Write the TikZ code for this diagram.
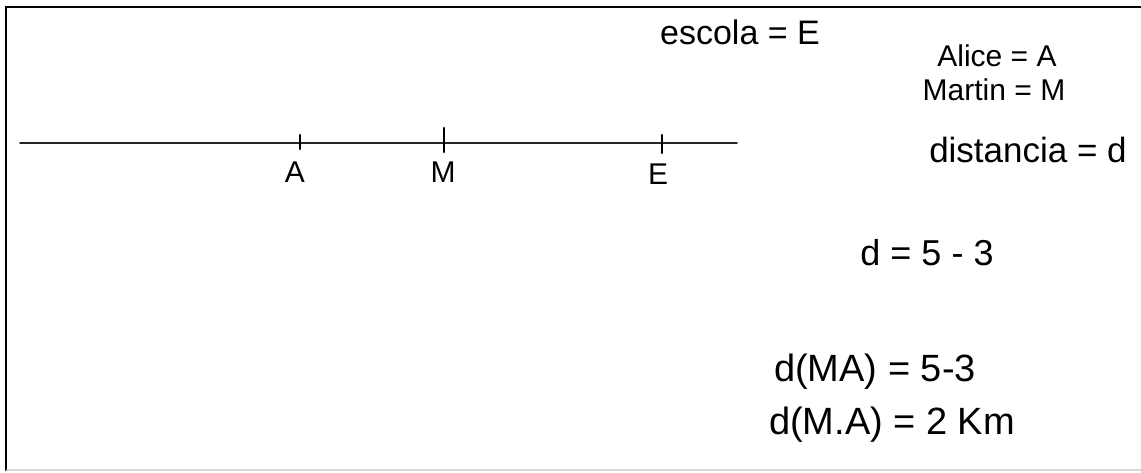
\documentclass[tikz,border=0pt]{standalone}
\usepackage{fontspec}
\setmainfont{Liberation Sans}
\begin{document}
\begin{tikzpicture}[
    x=0.5pt,
    y=-0.5pt,
    line cap=round,
    escrita/.style={
        inner sep=0pt,
        font=\fontsize{17}{19}\selectfont
    },
    nome/.style={
        inner sep=0pt,
        font=\fontsize{15}{16}\selectfont
    },
    conta/.style={
        inner sep=0pt,
        font=\fontsize{19}{21}\selectfont
    },
    rotulo/.style={
        inner sep=0pt,
        font=\fontsize{15}{17}\selectfont
    },
    marca/.style={
        line width=1.1pt
    }
]
    \useasboundingbox (0,0) rectangle (1141,472);

    % moldura
    \draw[line width=1.1pt] (1141,7) -- (6,7) -- (6,470);
    \draw[line width=0.8pt, black!15] (7,470) -- (1141,470);

    % reta
    \coordinate (inicio) at (20,143);
    \coordinate (fim) at (737,143);
    \draw[line width=0.8pt, black!85] (inicio) -- (fim);

    \draw[marca] (300,135) -- (300,149);
    \draw[marca] (444,128) -- (444,152);
    \draw[marca] (662,135) -- (662,153);

    \node[rotulo] (rotulo-a) at (295,172) {A};
    \node[rotulo] (rotulo-m) at (443,172) {M};
    \node[rotulo] (rotulo-e) at (658,174) {E};

    % legenda
    \node[escrita] (escola) at (740,32) {escola = E};
    \node[nome] (alice) at (997,56) {Alice = A};
    \node[nome] (martin) at (994,90) {Martin = M};
    \node[escrita, font=\fontsize{17.5}{19}\selectfont]
        (distancia) at (1028,150) {distancia = d};

    % contas
    \node[conta, font=\fontsize{18}{20}\selectfont]
        (conta-um) at (927,253) {d = 5 - 3};
    \node[conta] (conta-dois) at (875,372) {d(MA) = 5-3};
    \node[conta] (conta-tres) at (892,425) {d(M.A) = 2 Km};
\end{tikzpicture}
\end{document}
